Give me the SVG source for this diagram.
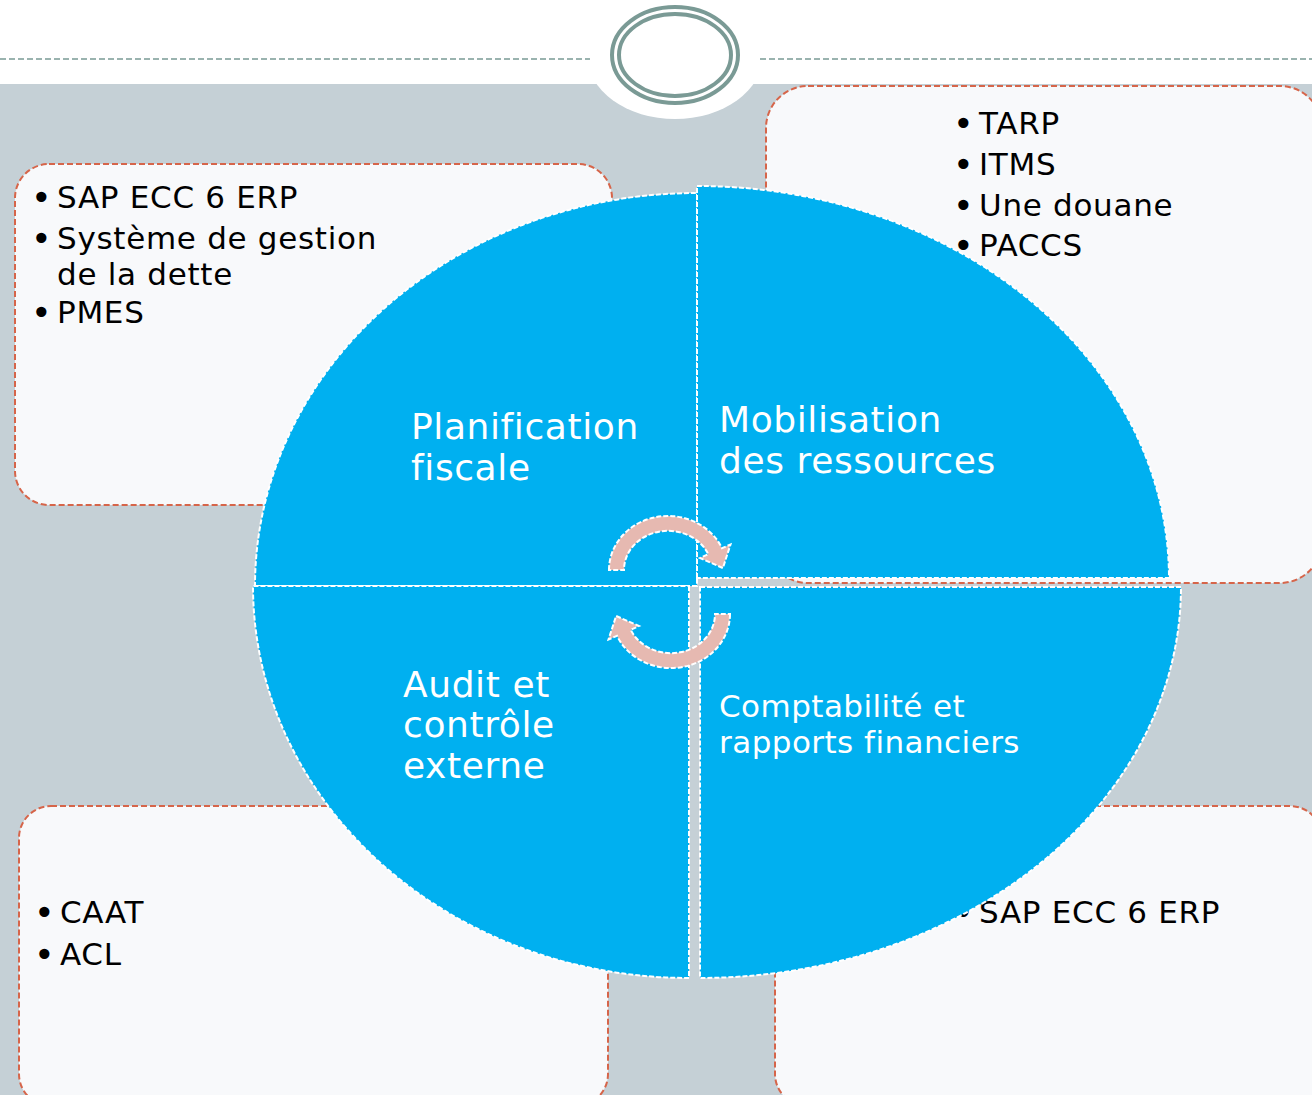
<svg xmlns="http://www.w3.org/2000/svg" width="1312" height="1095" viewBox="0 0 1312 1095">
<style>
.box{fill:#F8F9FB;stroke:#D6654A;stroke-width:2;stroke-dasharray:6 3}
.quad{fill:#00B0F0;stroke:#FFFFFF;stroke-width:2;stroke-dasharray:5 2}
.arr{fill:#E6B9B1;stroke:#FFFFFF;stroke-width:2;stroke-dasharray:5 2}
.t{font-family:"DejaVu Sans","Verdana",sans-serif;font-size:31px;letter-spacing:0.7px;fill:#000000}
.b{font-size:35px;letter-spacing:0}
.q{font-family:"DejaVu Sans","Verdana",sans-serif;font-size:36px;letter-spacing:0.6px;fill:#FFFFFF}
.q2{font-family:"DejaVu Sans","Verdana",sans-serif;font-size:31px;letter-spacing:0.45px;fill:#FFFFFF}
</style>
<defs>
<path id="cyc" d="M 609 570 A 59 54 0 0 1 722 548.2 L 730.5 544.5 L 722.9 568 L 700 558 L 708.3 554.2 A 44 39 0 0 0 624 570 Z"/>
</defs>
<!-- background -->
<rect x="0" y="0" width="1312" height="1095" fill="#FFFFFF"/>
<rect x="0" y="84" width="1312" height="1011" fill="#C5D0D6"/>
<ellipse cx="675" cy="55" rx="88" ry="64" fill="#FFFFFF"/>
<g id="header">
<line x1="0" y1="59" x2="590" y2="59" stroke="#7A9A95" stroke-width="1.5" stroke-dasharray="6 3"/>
<line x1="760" y1="59" x2="1312" y2="59" stroke="#7A9A95" stroke-width="1.5" stroke-dasharray="6 3"/>
<ellipse cx="675" cy="55" rx="63" ry="48" fill="none" stroke="#7A9A95" stroke-width="4"/>
<ellipse cx="675" cy="55" rx="56" ry="41" fill="none" stroke="#7A9A95" stroke-width="4"/>
</g>
<!-- boxes -->
<g id="box-tl">
<rect class="box" x="15" y="164" width="597" height="341" rx="34"/>
<text class="t" x="31" y="208"><tspan class="b" dy="2">•</tspan><tspan x="57" dy="-2">SAP ECC 6 ERP</tspan></text>
<text class="t" x="31" y="249"><tspan class="b" dy="2">•</tspan><tspan x="57" dy="-2">Système de gestion</tspan></text>
<text class="t" x="57" y="285">de la dette</text>
<text class="t" x="31" y="323"><tspan class="b" dy="2">•</tspan><tspan x="57" dy="-2">PMES</tspan></text>
</g>
<g id="box-tr">
<rect class="box" x="766" y="86" width="556" height="497" rx="42"/>
<text class="t" x="953" y="134"><tspan class="b" dy="2">•</tspan><tspan x="979" dy="-2">TARP</tspan></text>
<text class="t" x="953" y="175"><tspan class="b" dy="2">•</tspan><tspan x="979" dy="-2">ITMS</tspan></text>
<text class="t" x="953" y="216"><tspan class="b" dy="2">•</tspan><tspan x="979" dy="-2">Une douane</tspan></text>
<text class="t" x="953" y="256"><tspan class="b" dy="2">•</tspan><tspan x="979" dy="-2">PACCS</tspan></text>
</g>
<g id="box-bl">
<rect class="box" x="19" y="806" width="589" height="300" rx="32"/>
<text class="t" x="34" y="923"><tspan class="b" dy="2">•</tspan><tspan x="60" dy="-2">CAAT</tspan></text>
<text class="t" x="34" y="965"><tspan class="b" dy="2">•</tspan><tspan x="60" dy="-2">ACL</tspan></text>
</g>
<g id="box-br">
<rect class="box" x="775" y="806" width="547" height="300" rx="32"/>
<text class="t" x="953" y="923"><tspan class="b" dy="2">•</tspan><tspan x="979" dy="-2">SAP ECC 6 ERP</tspan></text>
</g>
<!-- quadrants -->
<g id="q-tl">
<path class="quad" d="M 697 586 L 255 586 A 442 393 0 0 1 697 193 Z"/>
<text class="q" x="411" y="439">Planification</text>
<text class="q" x="411" y="480">fiscale</text>
</g>
<g id="q-tr">
<path class="quad" d="M 697 578 L 697 186 A 472 392 0 0 1 1169 578 Z"/>
<text class="q" x="719" y="432">Mobilisation</text>
<text class="q" x="719" y="473">des ressources</text>
</g>
<g id="q-bl">
<path class="quad" d="M 689 586 L 689 978 A 436 392 0 0 1 253 586 Z"/>
<text class="q" x="403" y="697">Audit et</text>
<text class="q" x="403" y="737">contrôle</text>
<text class="q" x="403" y="778">externe</text>
</g>
<g id="q-br">
<path class="quad" d="M 700 587 L 1181 587 A 481 391 0 0 1 700 978 Z"/>
<text class="q2" x="719" y="717">Comptabilité et</text>
<text class="q2" x="719" y="753">rapports financiers</text>
</g>
<g id="connectors">
<use href="#cyc" class="arr"/>
<use href="#cyc" class="arr" transform="rotate(180 669.5 592)"/>
</g>
</svg>
